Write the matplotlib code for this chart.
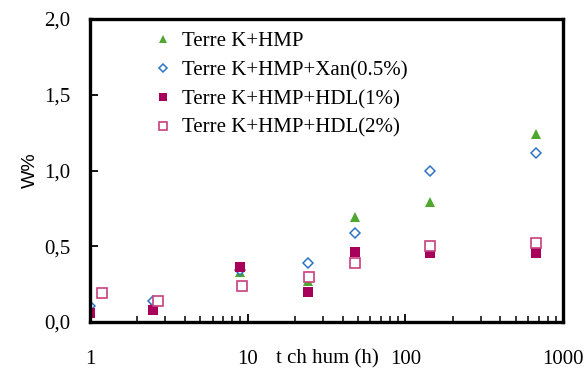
import numpy as np
import matplotlib.pyplot as plt
from matplotlib.ticker import FixedLocator, LogLocator, NullFormatter

# temps (h) et W%
t_main = [1, 2.5, 9, 24, 48, 144, 672]
t_hdl2 = [1.2, 2.7, 9.2, 24.5, 48, 144, 672]

w_hmp = [0.07, 0.12, 0.33, 0.27, 0.69, 0.79, 1.24]
w_xan = [0.105, 0.14, 0.34, 0.39, 0.59, 1.0, 1.115]
w_hdl1 = [0.06, 0.08, 0.365, 0.20, 0.46, 0.455, 0.455]
w_hdl2 = [0.19, 0.14, 0.24, 0.30, 0.39, 0.50, 0.52]

labels = ['Terre K+HMP', 'Terre K+HMP+Xan(0.5%)',
          'Terre K+HMP+HDL(1%)', 'Terre K+HMP+HDL(2%)']

plt.rcParams['font.family'] = ['Liberation Serif', 'DejaVu Serif']
plt.rcParams['font.size'] = 15

fig = plt.figure(figsize=(5.86, 3.70), dpi=100)
ax = fig.add_axes([90/586, 48/370, 473/586, 303/370])

ax.plot(t_main, w_hmp, '^', color='#4ea72e', markersize=7, mew=0, label=labels[0])
ax.plot(t_main, w_xan, 'D', mfc='white', mec='#2e75c6', markersize=5.5, mew=1.1, label=labels[1])
ax.plot(t_main, w_hdl1, 's', color='#a8005a', markersize=7.5, mew=0, label=labels[2])
ax.plot(t_hdl2, w_hdl2, 's', mfc='white', mec='#c8407f', markersize=7.5, mew=1.2, label=labels[3])

ax.set_xscale('log')
ax.set_xlim(1, 1000)
ax.set_ylim(0, 2.0)
ax.xaxis.set_major_locator(FixedLocator([1, 10, 100, 1000]))
ax.xaxis.set_minor_locator(LogLocator(base=10, subs=np.arange(2, 10)))
ax.xaxis.set_minor_formatter(NullFormatter())
ax.set_xticks([1, 10, 100, 1000])
ax.set_xticklabels(['1', '10', '100', '1000'])
ax.set_yticks([0, 0.5, 1.0, 1.5, 2.0])
ax.set_yticklabels(['0,0', '0,5', '1,0', '1,5', '2,0'])

for s in ax.spines.values():
    s.set_linewidth(2.4)
ax.tick_params(axis='both', which='major', direction='in', length=6, width=1.3)
ax.tick_params(axis='x', which='minor', direction='in', length=4, width=1.1)
ax.tick_params(axis='x', which='major', pad=20)
ax.tick_params(axis='y', which='major', pad=14)

fig.text(327/586, 1 - 359/370, 't ch hum (h)', ha='center', va='center', fontsize=15)
ax.set_ylabel('W%', family=['Liberation Sans', 'DejaVu Sans'], fontsize=14, labelpad=4)

ax.legend(loc='upper left', bbox_to_anchor=(0.11, 1.0), frameon=False,
          markerscale=0.8, handlelength=0.8, handletextpad=0.5,
          labelspacing=0.45, borderaxespad=0.2)

plt.savefig('out.png', dpi=100)
